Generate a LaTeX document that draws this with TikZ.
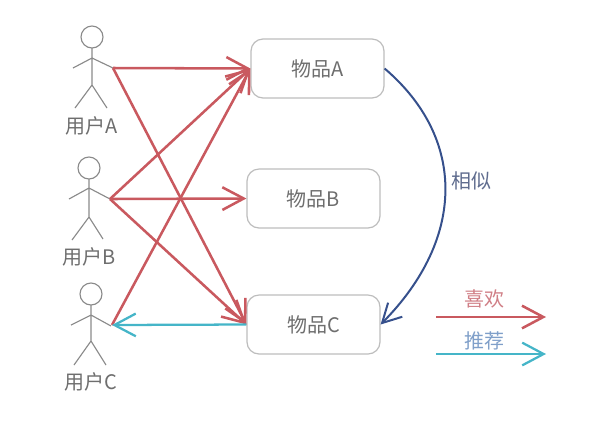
\documentclass[tikz,border=0pt]{standalone}
\usepackage{fontspec}
\setmainfont{Noto Sans CJK SC}
\usetikzlibrary{arrows.meta}
\definecolor{likered}{HTML}{C9595F}
\definecolor{reccyan}{HTML}{45B5C8}
\definecolor{simblue}{HTML}{36508C}
\definecolor{linegray}{HTML}{8A8A8A}
\definecolor{boxgray}{HTML}{BDBDBD}
\definecolor{txtgray}{HTML}{6E6E6E}
\definecolor{simtext}{HTML}{5F6C8E}
\definecolor{liketext}{HTML}{D07F86}
\definecolor{rectext}{HTML}{7F9FC9}
\tikzset{
  x=0.75pt,y=-0.75pt,
  labelfont/.style={font=\fontsize{15pt}{17pt}\selectfont},
  itembox/.style={draw=boxgray,line width=0.9pt,rounded corners=9pt,minimum width=99.75pt,minimum height=44.25pt,inner sep=0pt,text=txtgray,labelfont,fill=white},
  actor/.style={draw=linegray,line width=0.85pt},
  actorlabel/.style={text=txtgray,inner sep=0pt,labelfont},
  likearrow/.style={draw=likered,line width=1.9pt,-{Straight Barb[length=16pt,width=17pt,line width=1.9pt]}},
  recarrow/.style={draw=reccyan,line width=1.7pt,-{Straight Barb[length=16pt,width=17pt,line width=1.7pt]}},
  simarrow/.style={draw=simblue,line width=1.5pt,-{Straight Barb[length=14pt,width=15pt,line width=1.5pt]}},
}
\begin{document}
\begin{tikzpicture}
\useasboundingbox (0,0) rectangle (616,430);
% user A
\draw[actor] (92,37) circle[radius=11];
\draw[actor] (92,48) -- (92,85) (73,68) -- (92,58) -- (113,68) (75,108) -- (92,85) -- (107,108);
\node[actorlabel] (ua) at (92,126) {用户A};
\coordinate (ha) at (113,68);
% user B
\draw[actor] (89,168) circle[radius=11];
\draw[actor] (89,179) -- (89,217) (69,199) -- (89,188) -- (110,199) (72,240) -- (89,217) -- (103,239);
\node[actorlabel] (ub) at (89,257) {用户B};
\coordinate (hb) at (110,199);
% user C
\draw[actor] (91,294) circle[radius=11];
\draw[actor] (91,305) -- (91,341) (71,325) -- (91,315) -- (111,326) (74,365) -- (91,341) -- (106,365);
\node[actorlabel] (uc) at (91,382) {用户C};
\coordinate (hc) at (112,325);
% items
\node[itembox] (ia) at (317.5,68.5) {物品A};
\node[itembox] (ib) at (313.5,198.5) {物品B};
\node[itembox] (ic) at (313.5,324.5) {物品C};
% likes
\draw[likearrow] (ha) -- (ia.west);
\draw[likearrow] (ha) -- (ic.west);
\draw[likearrow] (hb) -- (ia.west);
\draw[likearrow] (hb) -- (ib.west);
\draw[likearrow] (hb) -- (ic.west);
\draw[likearrow] (hc) -- (ia.west);
% recommend
\draw[recarrow] (ic.west) -- (hc);
% similar
\draw[simarrow] (ia.east) .. controls (466,138) and (466,238) .. (ic.east);
\node[inner sep=0pt,text=simtext,labelfont] (sim) at (471,181) {相似};
% legend
\node[inner sep=0pt,text=liketext,labelfont] (lk) at (484,299) {喜欢};
\coordinate (l1a) at (436,317);
\coordinate (l1b) at (546,317);
\draw[likearrow] (l1a) -- (l1b);
\node[inner sep=0pt,text=rectext,labelfont] (rc) at (484,341) {推荐};
\coordinate (l2a) at (436,354);
\coordinate (l2b) at (546,354);
\draw[recarrow] (l2a) -- (l2b);
\end{tikzpicture}
\end{document}
